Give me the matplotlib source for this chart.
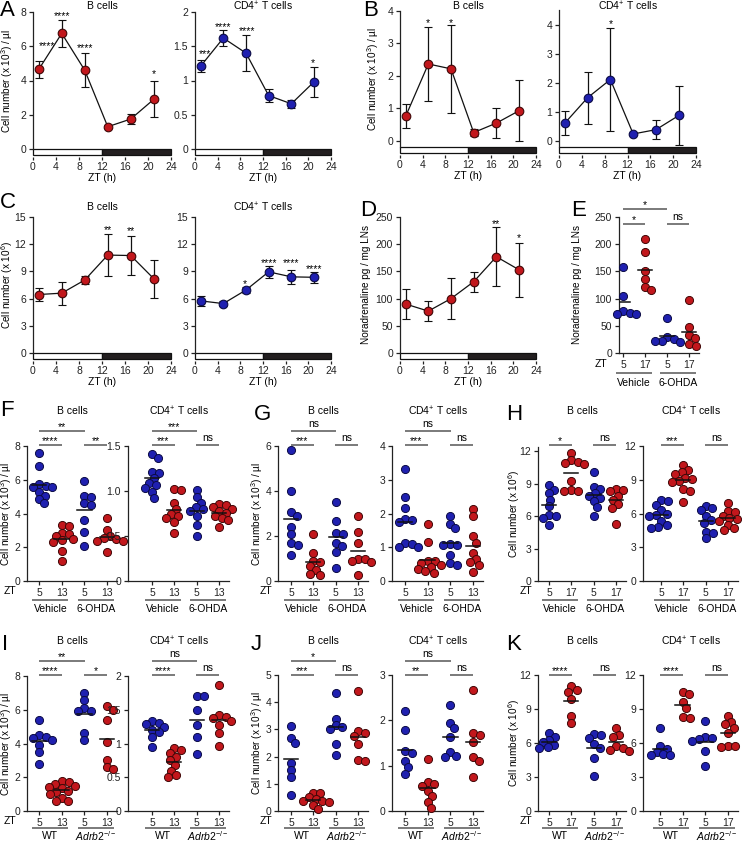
import numpy as np
import matplotlib
matplotlib.use("Agg")
import matplotlib.pyplot as plt
from matplotlib.patches import Rectangle

plt.rcParams['font.family'] = ['Liberation Sans', 'DejaVu Sans']
plt.rcParams['font.size'] = 7.5
plt.rcParams['mathtext.fontset'] = 'custom'
plt.rcParams['mathtext.rm'] = 'Liberation Sans'
plt.rcParams['mathtext.it'] = 'Liberation Sans:italic'
plt.rcParams['axes.linewidth'] = 0.9
plt.rcParams['axes.edgecolor'] = '#222222'

# ---- time courses (A-D) ----
zt = [1, 5, 9, 13, 17, 21]
a_b = [4.65, 6.75, 4.6, 1.3, 1.75, 2.9]
a_b_err = [0.5, 0.77, 1.0, 0.1, 0.3, 1.05]
a_t = [1.21, 1.62, 1.4, 0.78, 0.66, 0.98]
a_t_err = [0.09, 0.11, 0.26, 0.1, 0.06, 0.22]
b_b = [0.76, 2.37, 2.22, 0.26, 0.55, 0.93]
b_b_err = [0.37, 1.14, 1.36, 0.1, 0.45, 0.94]
b_t = [0.61, 1.49, 2.12, 0.24, 0.39, 0.88]
b_t_err = [0.42, 0.9, 1.78, 0.05, 0.32, 1.03]
c_b = [6.45, 6.6, 8.05, 10.8, 10.75, 8.2]
c_b_err = [0.75, 1.28, 0.42, 2.3, 2.15, 2.1]
c_t = [5.75, 5.45, 6.95, 8.95, 8.4, 8.35]
c_t_err = [0.55, 0.25, 0.35, 0.7, 0.8, 0.6]
d_na = [90, 77, 100, 131, 177, 153]
d_na_err = [27, 18, 38, 18, 54, 50]

a_b_stars = [(2.5, 6.2, '****'), (5, 7.9, '****'), (9, 6.05, '****'), (21, 4.55, '*')]
a_t_stars = [(1.8, 1.43, '***'), (5, 1.82, '****'), (9.2, 1.76, '****'), (20.8, 1.29, '*')]
b_b_stars = [(5, 3.72, '*'), (9, 3.72, '*')]
b_t_stars = [(9, 4.13, '*')]
c_b_stars = [(13, 13.9, '**'), (17, 13.7, '**')]
c_t_stars = [(8.8, 7.9, '*'), (13, 10.25, '****'), (17, 10.2, '****'), (21, 9.6, '****')]
d_stars = [(17, 243, '**'), (21, 217, '*')]

# ---- dot plots (E-K) ----
e_veh5 = [158, 105, 78, 74, 72, 71]
e_veh17 = [210, 186, 151, 136, 121, 115]
e_ohda5 = [64, 30, 25, 22, 21, 22]
e_ohda17 = [98, 48, 33, 27, 16, 13]

f_b_veh5 = [7.6, 6.8, 5.75, 5.65, 5.6, 5.55, 5.3, 5.05, 4.85, 4.6]
f_b_veh13 = [3.3, 3.25, 2.85, 2.8, 2.65, 2.5, 2.45, 2.3, 1.8, 1.2]
f_b_ohda5 = [5.9, 5.05, 5.0, 4.6, 4.5, 3.6, 2.9, 2.05]
f_b_ohda13 = [3.75, 3.0, 2.65, 2.55, 2.5, 2.4, 2.35, 1.7]
f_t_veh5 = [1.41, 1.37, 1.21, 1.2, 1.14, 1.09, 1.07, 1.03, 0.99, 0.92]
f_t_veh13 = [1.02, 1.01, 0.87, 0.8, 0.75, 0.72, 0.7, 0.66, 0.53]
f_t_ohda5 = [1.01, 0.93, 0.87, 0.82, 0.8, 0.78, 0.72, 0.62, 0.5]
f_t_ohda13 = [0.86, 0.84, 0.82, 0.8, 0.78, 0.76, 0.72, 0.7, 0.68, 0.6]

g_b_veh5 = [5.82, 4.0, 3.05, 2.87, 2.42, 2.1, 1.71, 1.6, 1.14]
g_b_veh13 = [2.08, 1.24, 0.9, 0.83, 0.65, 0.5, 0.33, 0.28]
g_b_ohda5 = [3.49, 2.67, 2.13, 2.1, 1.68, 1.57, 1.27, 0.6]
g_b_ohda13 = [2.87, 2.2, 1.71, 1.0, 0.98, 0.9, 0.83, 0.28]
g_t_veh5 = [3.32, 2.48, 2.17, 1.83, 1.81, 1.76, 1.12, 1.1, 1.02, 1.0]
g_t_veh13 = [1.7, 1.15, 0.6, 0.58, 0.52, 0.48, 0.42, 0.35, 0.3, 0.24]
g_t_ohda5 = [1.94, 1.7, 1.57, 1.1, 1.07, 1.07, 0.78, 0.53, 0.48]
g_t_ohda13 = [2.13, 1.92, 1.32, 1.14, 0.83, 0.65, 0.55, 0.47, 0.27]

h_b_veh5 = [8.85, 8.45, 8.1, 7.5, 6.9, 6.1, 6.0, 5.85, 5.15]
h_b_veh17 = [11.85, 11.2, 11.0, 10.9, 10.8, 9.3, 8.4, 8.3, 8.3]
h_b_ohda5 = [10.1, 8.7, 8.5, 8.1, 7.9, 7.7, 7.4, 6.85, 6.0]
h_b_ohda17 = [8.5, 8.45, 8.3, 7.9, 7.5, 7.1, 6.8, 5.3]
h_t_veh5 = [7.2, 7.1, 6.8, 6.3, 6.0, 5.9, 5.8, 5.3, 5.0, 4.8, 4.7]
h_t_veh17 = [10.3, 9.9, 9.7, 9.5, 9.2, 9.1, 8.9, 8.8, 8.2, 8.0, 7.0]
h_t_ohda5 = [6.7, 6.5, 6.3, 5.8, 5.4, 5.2, 4.4, 4.3, 3.8]
h_t_ohda17 = [6.9, 6.2, 6.1, 5.8, 5.6, 5.5, 5.3, 5.0, 4.7, 4.5]

i_b_wt5 = [5.4, 4.5, 4.4, 4.3, 4.2, 3.9, 3.5, 2.8]
i_b_wt13 = [1.75, 1.7, 1.6, 1.5, 1.45, 1.35, 1.2, 1.1, 1.0, 0.8, 0.6, 0.6]
i_b_ko5 = [7.0, 6.55, 6.1, 5.95, 5.9, 4.6, 4.2]
i_b_ko13 = [6.25, 6.0, 5.4, 4.1, 3.0, 2.6, 2.5]
i_t_wt5 = [1.33, 1.31, 1.29, 1.25, 1.2, 1.17, 1.09, 0.95]
i_t_wt13 = [0.94, 0.9, 0.86, 0.8, 0.75, 0.68, 0.6, 0.53, 0.51]
i_t_ko5 = [1.7, 1.7, 1.5, 1.27, 1.1, 0.85]
i_t_ko13 = [1.87, 1.42, 1.4, 1.38, 1.33, 1.28, 1.15, 0.96]

j_b_wt5 = [3.12, 2.7, 2.5, 1.75, 1.5, 1.25, 0.58]
j_b_wt13 = [0.68, 0.66, 0.5, 0.45, 0.38, 0.35, 0.32, 0.22, 0.06]
j_b_ko5 = [4.35, 3.4, 3.15, 3.08, 3.0, 2.47, 2.07]
j_b_ko13 = [4.42, 2.95, 2.85, 2.75, 2.45, 1.88, 1.85]
j_t_wt5 = [2.2, 1.78, 1.32, 1.28, 1.1, 0.97, 0.82]
j_t_wt13 = [1.15, 0.63, 0.6, 0.55, 0.45, 0.33, 0.2, 0.07]
j_t_ko5 = [2.33, 1.94, 1.82, 1.64, 1.3, 1.22, 1.2]
j_t_ko13 = [2.66, 1.72, 1.67, 1.52, 1.19, 1.11, 0.75]

k_b_wt5 = [6.85, 6.55, 6.25, 6.05, 5.85, 5.65, 5.55]
k_b_wt17 = [11.0, 10.7, 10.5, 9.9, 8.4, 7.8]
k_b_ko5 = [6.8, 6.7, 6.4, 5.9, 5.6, 4.7, 3.1]
k_b_ko17 = [7.3, 6.75, 6.5, 5.7, 5.6, 5.4, 5.3]
k_t_wt5 = [7.3, 5.7, 5.5, 5.2, 5.0, 4.95, 4.9]
k_t_wt17 = [10.5, 10.3, 9.6, 9.1, 8.3, 8.2]
k_t_ko5 = [7.9, 6.5, 6.4, 6.35, 6.2, 5.3, 3.95]
k_t_ko17 = [8.35, 7.85, 7.7, 7.3, 6.9, 5.75, 5.7, 5.65]

BLUE, BLUE_E = '#1f20b0', '#0b0b45'
RED, RED_E = '#c2171c', '#400707'
GREY = '#6f6f6f'
B_TITLE = 'B cells'
T_TITLE = 'CD4$^{+}$ T cells'
YL_UL = 'Cell number (x 10$^{3}$) / µl'
YL_6 = 'Cell number (x 10$^{6}$)'
YL_NA = 'Noradrenaline pg / mg LNs'
KO = '$\\mathit{Adrb2}^{-/-}$'

W, H = 742, 842
fig = plt.figure(figsize=(W / 100, H / 100), dpi=100)
boxes = {}


def add_ax(l, t, r, b):
    ax = fig.add_axes([l / W, 1 - b / H, (r - l) / W, (b - t) / H])
    boxes[ax] = (l, t, r, b)
    ax.spines['top'].set_visible(False)
    ax.spines['right'].set_visible(False)
    ax.tick_params(direction='out', length=3, width=0.9, pad=2, colors='#222222')
    ax.patch.set_alpha(0)
    return ax


def fy(ax, ypx):
    l, t, r, b = boxes[ax]
    return (b - ypx) / (b - t)


def letter(x, y, s):
    fig.text(x / W, 1 - y / H, s, fontsize=16, ha='left', va='center')


def label_px(x, y, s, **kw):
    fig.text(x / W, 1 - y / H, s, ha='center', va='center', **kw)


def ylabel_px(ax, x, s):
    l, t, r, b = boxes[ax]
    label_px(x, (t + b) / 2, s, rotation=90, fontsize=7.2)


def timecourse(box, vals, errs, col, ecol, ylim, yticks, ytl, title, title_y, stars,
               ylab=None, ylab_x=None):
    ax = add_ax(*box)
    ax.errorbar(zt, vals, yerr=errs, color='#111111', lw=0.9, elinewidth=0.9,
                capsize=3, capthick=0.9, marker='o', ms=6.2, mfc=col, mec=ecol,
                mew=0.8, zorder=3, clip_on=False)
    ax.set_xlim(0, 24)
    ax.set_ylim(*ylim)
    ax.set_xticks(range(0, 25, 4))
    ax.set_yticks(yticks)
    ax.set_yticklabels(ytl)
    ax.spines['bottom'].set_visible(False)
    ax.spines['bottom'].set_position(('outward', 6))
    ax.tick_params(axis='x', length=2.5, pad=0.8)
    l, t, r, b = box
    hb = 6 / (b - t)
    tr = ax.get_xaxis_transform()
    ax.add_patch(Rectangle((0, -hb), 12, hb, transform=tr, fc='white', ec='#111111',
                           lw=0.9, clip_on=False))
    ax.add_patch(Rectangle((12, -hb), 12, hb, transform=tr, fc='#231f20', ec='#111111',
                           lw=0.9, clip_on=False))
    for x, y, s in stars:
        ax.annotate(s, (x, y), xytext=(0, -2), textcoords='offset points', ha='center',
                    va='center', annotation_clip=False)
    if title:
        ax.text(0.5, fy(ax, title_y), title, transform=ax.transAxes, ha='center',
                va='center')
    label_px((l + r) / 2, b + 29, 'ZT (h)')
    if ylab:
        ylabel_px(ax, ylab_x, ylab)
    return ax


def swarm(ax, xc, vals, d=6.6):
    pts = ax.transData.transform(np.column_stack([np.full(len(vals), float(xc)), vals]))
    ypx = pts[:, 1]
    order = np.argsort(-np.asarray(vals, dtype=float), kind='stable')
    cands = [0.0]
    for k in range(1, 60):
        cands += [k * 0.5, -k * 0.5]
    placed = []
    off = np.zeros(len(vals))
    for i in order:
        for c in cands:
            if all((c - ox) ** 2 + (ypx[i] - oy) ** 2 >= d * d for ox, oy in placed):
                off[i] = c
                placed.append((c, ypx[i]))
                break
    ppu = ax.transData.transform([(1, 0)])[0, 0] - ax.transData.transform([(0, 0)])[0, 0]
    return xc + off / ppu


def catpanel(l, t, b, cats, groups, ylim, yticks, ytl, xtl, title, title_y,
             top_txt, low_txt, br_y, glabels, tick_rows, zt_x=None, ylab=None, ylab_x=None):
    sp = (cats[3] - cats[0]) / 3
    r = cats[3] + 10
    ax = add_ax(l, t, r, b)
    ax.set_xlim(-(cats[0] - l) / sp, 3 + 10 / sp)
    ax.set_ylim(*ylim)
    ax.set_yticks(yticks)
    ax.set_yticklabels(ytl)
    ax.set_xticks(range(4))
    ax.set_xticklabels(xtl)
    cols = [(BLUE, BLUE_E), (RED, RED_E), (BLUE, BLUE_E), (RED, RED_E)]
    for i, vals in enumerate(groups):
        xs = swarm(ax, i, vals)
        ax.scatter(xs, vals, s=34, c=cols[i][0], edgecolors=cols[i][1], linewidths=0.7,
                   zorder=3, clip_on=False)
        m = np.mean(vals)
        ax.plot([i - 0.32, i + 0.32], [m, m], color='#111111', lw=1.1, zorder=4)
    tr = ax.get_xaxis_transform()
    top_y, low_y = br_y
    segs = []
    if top_txt:
        segs.append((0, 2, top_y, top_txt))
    segs.append((0, 1, low_y, low_txt[0]))
    segs.append((2, 3, low_y, low_txt[1]))
    for i0, i1, ypx, s in segs:
        yy = fy(ax, ypx)
        ax.plot([i0 - 0.02, i1 + 0.02], [yy, yy], transform=tr, color=GREY, lw=1.3,
                clip_on=False, solid_capstyle='butt')
        off = 1.5 if s == 'ns' else -0.5
        ax.annotate(s, ((i0 + i1) / 2, yy), xycoords=tr, xytext=(0, off),
                    textcoords='offset points', ha='center', va='bottom',
                    annotation_clip=False)
    tick_y, line_y, glab_y = tick_rows
    for k, g in enumerate(glabels):
        i0, i1 = 2 * k, 2 * k + 1
        yy = fy(ax, line_y)
        ax.plot([i0 - 0.3, i1 + 0.3], [yy, yy], transform=tr, color=GREY, lw=1.3,
                clip_on=False, solid_capstyle='butt')
        ax.text((i0 + i1) / 2, fy(ax, glab_y), g, transform=tr, ha='center', va='center')
    if title:
        ax.text(0.5, fy(ax, title_y), title, transform=ax.transAxes, ha='center',
                va='center')
    if zt_x is not None:
        label_px(zt_x, tick_y, 'ZT')
    if ylab:
        ylabel_px(ax, ylab_x, ylab)
    return ax


# A
timecourse((33, 12, 171, 149), a_b, a_b_err, RED, RED_E, (0, 8), [0, 2, 4, 6, 8],
           ['0', '2', '4', '6', '8'], B_TITLE, 6, a_b_stars, YL_UL, 7)
timecourse((195, 12, 331, 149), a_t, a_t_err, BLUE, BLUE_E, (0, 2), [0, 0.5, 1, 1.5, 2],
           ['0', '0.5', '1', '1.5', '2'], T_TITLE, 6, a_t_stars)
# B
timecourse((400, 11, 536, 147), b_b, b_b_err, RED, RED_E, (-0.185, 4), [0, 1, 2, 3, 4],
           ['0', '1', '2', '3', '4'], B_TITLE, 6, b_b_stars, YL_UL, 373)
timecourse((559, 10, 696, 147), b_t, b_t_err, BLUE, BLUE_E, (-0.21, 4.52), [0, 1, 2, 3, 4],
           ['0', '1', '2', '3', '4'], T_TITLE, 6, b_t_stars)
# C
timecourse((33, 217, 171, 353), c_b, c_b_err, RED, RED_E, (0, 15), [0, 3, 6, 9, 12, 15],
           ['0', '3', '6', '9', '12', '15'], B_TITLE, 207, c_b_stars, YL_6, 7)
timecourse((195, 217, 331, 353), c_t, c_t_err, BLUE, BLUE_E, (0, 15), [0, 3, 6, 9, 12, 15],
           ['0', '3', '6', '9', '12', '15'], T_TITLE, 207, c_t_stars)
# D
timecourse((400, 217, 536, 353), d_na, d_na_err, RED, RED_E, (0, 250),
           [0, 50, 100, 150, 200, 250], ['0', '50', '100', '150', '200', '250'],
           None, 207, d_stars, YL_NA, 366)

# E
catpanel(619, 217, 353, [623, 644, 667, 689], [e_veh5, e_veh17, e_ohda5, e_ohda17],
         (0, 250), [0, 50, 100, 150, 200, 250], ['0', '50', '100', '150', '200', '250'],
         ['5', '17', '5', '17'], None, None, '*', ('*', 'ns'), (209, 224),
         ['Vehicle', '6-OHDA'], (364, 373, 383), 601, YL_NA, 577)

veh = ['Vehicle', '6-OHDA']
wtko = ['WT', KO]
row3 = (591, 600, 609)
row4 = (821, 828, 836)
x513 = ['5', '13', '5', '13']
x517 = ['5', '17', '5', '17']
t08 = ([0, 2, 4, 6, 8], ['0', '2', '4', '6', '8'])
t12 = ([0, 3, 6, 9, 12], ['0', '3', '6', '9', '12'])

# F
catpanel(27, 446, 581, [39, 62, 84, 107], [f_b_veh5, f_b_veh13, f_b_ohda5, f_b_ohda13],
         (0, 8), *t08, x513, B_TITLE, 411, '**', ('****', '**'), (431, 445), veh, row3,
         10, YL_UL, 6.5)
catpanel(128, 446, 581, [152, 174, 197, 219], [f_t_veh5, f_t_veh13, f_t_ohda5, f_t_ohda13],
         (0, 1.5), [0, 0.5, 1.0, 1.5], ['0', '0.5', '1.0', '1.5'], x513, T_TITLE, 411,
         '***', ('***', 'ns'), (431, 445), veh, row3)
# G
catpanel(278, 446, 581, [291, 313, 336, 358], [g_b_veh5, g_b_veh13, g_b_ohda5, g_b_ohda13],
         (0, 6), [0, 2, 4, 6], ['0', '2', '4', '6'], x513, B_TITLE, 411, 'ns',
         ('***', 'ns'), (431, 445), veh, row3, 266, YL_UL, 257)
catpanel(392, 446, 581, [405, 427, 450, 473], [g_t_veh5, g_t_veh13, g_t_ohda5, g_t_ohda13],
         (0, 4), [0, 1, 2, 3, 4], ['0', '1', '2', '3', '4'], x513, T_TITLE, 411, 'ns',
         ('***', 'ns'), (431, 445), veh, row3)
# H
catpanel(538, 447, 581, [549, 571, 594, 616], [h_b_veh5, h_b_veh17, h_b_ohda5, h_b_ohda17],
         (0, 12.4), *t12, x517, B_TITLE, 411, None, ('*', 'ns'), (431, 445), veh, row3,
         526, YL_6, 514)
catpanel(643, 446, 581, [661, 683, 706, 728], [h_t_veh5, h_t_veh17, h_t_ohda5, h_t_ohda17],
         (0, 12), *t12, x517, T_TITLE, 411, None, ('***', 'ns'), (431, 445), veh, row3)
# I
catpanel(27, 676, 811, [39, 62, 84, 107], [i_b_wt5, i_b_wt13, i_b_ko5, i_b_ko13],
         (0, 8), *t08, x513, B_TITLE, 641, '**', ('****', '*'), (661, 675), wtko, row4,
         10, YL_UL, 6.5)
catpanel(128, 676, 811, [152, 174, 197, 219], [i_t_wt5, i_t_wt13, i_t_ko5, i_t_ko13],
         (0, 2), [0, 0.5, 1, 1.5, 2], ['0', '0.5', '1', '1.5', '2'], x513, T_TITLE, 641,
         'ns', ('****', 'ns'), (661, 675), wtko, row4)
# J
catpanel(278, 675, 811, [291, 313, 336, 358], [j_b_wt5, j_b_wt13, j_b_ko5, j_b_ko13],
         (0, 5), [0, 1, 2, 3, 4, 5], ['0', '1', '2', '3', '4', '5'], x513, B_TITLE, 641,
         '*', ('***', 'ns'), (661, 675), wtko, row4, 266, YL_UL, 257)
catpanel(392, 675, 811, [405, 427, 450, 473], [j_t_wt5, j_t_wt13, j_t_ko5, j_t_ko13],
         (0, 3), [0, 1, 2, 3], ['0', '1', '2', '3'], x513, T_TITLE, 641, 'ns',
         ('**', 'ns'), (661, 675), wtko, row4)
# K
catpanel(538, 675, 811, [549, 571, 594, 616], [k_b_wt5, k_b_wt17, k_b_ko5, k_b_ko17],
         (0, 12), *t12, x517, B_TITLE, 641, None, ('****', 'ns'), (661, 675), wtko, row4,
         526, YL_6, 514)
catpanel(643, 675, 811, [660, 683, 706, 728], [k_t_wt5, k_t_wt17, k_t_ko5, k_t_ko17],
         (0, 12), *t12, x517, T_TITLE, 641, None, ('****', 'ns'), (661, 675), wtko, row4)

letter(0, 10, 'A')
letter(363, 11, 'B')
letter(0, 203, 'C')
letter(360, 211, 'D')
letter(571, 210, 'E')
letter(0, 410, 'F')
letter(254, 415, 'G')
letter(506, 415, 'H')
letter(2, 645, 'I')
letter(251, 645, 'J')
letter(506, 645, 'K')

fig.savefig('out.png', dpi=100)
